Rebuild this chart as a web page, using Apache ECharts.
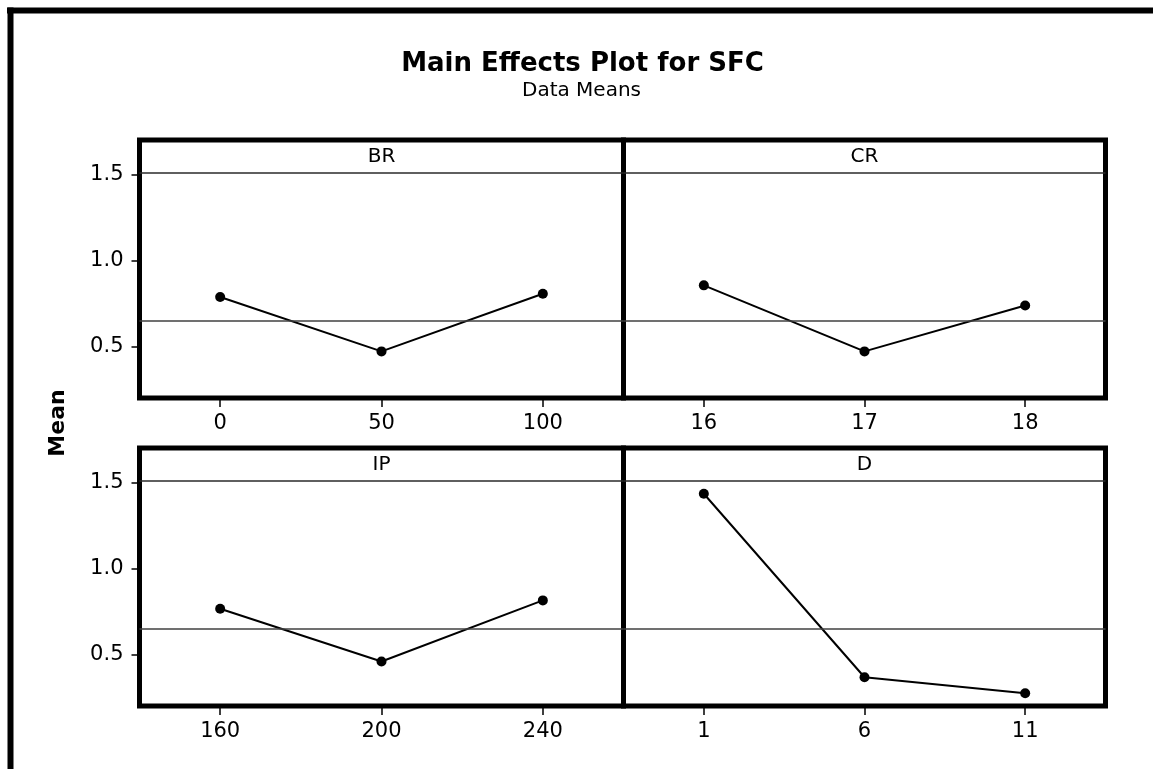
<!DOCTYPE html>
<html>
<head>
<meta charset="utf-8">
<script src="https://cdn.jsdelivr.net/npm/echarts@6/dist/echarts.min.js"></script>
<style>
  html, body { margin: 0; padding: 0; background: #fff; }
  #chart { width: 1153px; height: 769px; }
</style>
</head>
<body>
<div id="chart"></div>
<script>
// ---- data ----
const panelNames = ['BR', 'CR', 'IP', 'D'];
const brLevels = ['0', '50', '100'];
const brMeans = [0.787, 0.471, 0.806];
const crLevels = ['16', '17', '18'];
const crMeans = [0.855, 0.471, 0.738];
const ipLevels = ['160', '200', '240'];
const ipMeans = [0.765, 0.459, 0.814];
const dLevels = ['1', '6', '11'];
const dMeans = [1.434, 0.367, 0.274];
const grandMean = 0.647;
const stripLineValue = 1.514;
const yTicks = [0.5, 1.0, 1.5];
const yMin = 0.2, yMax = 1.7;

const levels = [brLevels, crLevels, ipLevels, dLevels];
const means = [brMeans, crMeans, ipMeans, dMeans];

const FONT = '"DejaVu Sans", Verdana, sans-serif';

const grids = [
  { left: 139.5, top: 140, width: 484, height: 258 },
  { left: 623.5, top: 140, width: 482, height: 258 },
  { left: 139.5, top: 448, width: 484, height: 258 },
  { left: 623.5, top: 448, width: 482, height: 258 }
].map(g => Object.assign(g, { show: true, borderColor: '#000', borderWidth: 5, backgroundColor: 'transparent' }));

const xAxes = levels.map((lv, i) => ({
  type: 'category', gridIndex: i, data: lv, boundaryGap: true,
  axisLine: { show: false },
  axisTick: { show: true, alignWithLabel: true, length: 9, lineStyle: { color: '#000', width: 1.5 } },
  axisLabel: { color: '#000', fontSize: 21, fontFamily: FONT, margin: 15, interval: 0 },
  splitLine: { show: false }
}));

const yAxes = levels.map((lv, i) => {
  const isLeft = (i % 2 === 0);
  return {
    type: 'value', gridIndex: i, min: yMin, max: yMax,
    axisLine: { show: false },
    axisTick: { show: isLeft, length: 8, customValues: yTicks, lineStyle: { color: '#000', width: 1.5 } },
    axisLabel: { show: isLeft, customValues: yTicks, color: '#000', fontSize: 21, fontFamily: FONT, margin: 16,
      formatter: v => v.toFixed(1) },
    splitLine: { show: false }
  };
});

const series = means.map((m, i) => ({
  type: 'line', xAxisIndex: i, yAxisIndex: i, data: m,
  symbol: 'circle', symbolSize: 10,
  itemStyle: { color: '#000' },
  lineStyle: { color: '#000', width: 2 },
  markLine: {
    silent: true, symbol: 'none', label: { show: false },
    data: [
      { yAxis: grandMean, lineStyle: { color: '#404040', width: 1.6, type: 'solid' } },
      { yAxis: stripLineValue, lineStyle: { color: '#2a2a2a', width: 1.6, type: 'solid' } }
    ]
  }
}));

const stripPos = [[381.5, 157], [864.5, 157], [381.5, 465], [864.5, 465]];
const graphic = [
  { type: 'line', shape: { x1: 7, y1: 10.5, x2: 1160, y2: 10.5 }, style: { stroke: '#000', lineWidth: 6 } },
  { type: 'line', shape: { x1: 10.5, y1: 7.5, x2: 10.5, y2: 780 }, style: { stroke: '#000', lineWidth: 6 } },
  { type: 'text', x: 582.5, y: 64, style: { text: 'Main Effects Plot for SFC', fontSize: 26, fontWeight: 'bold', fontFamily: FONT, fill: '#000', align: 'center', verticalAlign: 'middle' } },
  { type: 'text', x: 581.5, y: 91, style: { text: 'Data Means', fontSize: 20, fontFamily: FONT, fill: '#000', align: 'center', verticalAlign: 'middle' } },
  { type: 'text', x: 58, y: 423, rotation: Math.PI / 2, style: { text: 'Mean', fontSize: 22, fontWeight: 'bold', fontFamily: FONT, fill: '#000', align: 'center', verticalAlign: 'middle' } }
].concat(panelNames.map((n, i) => ({
  type: 'text', x: stripPos[i][0], y: stripPos[i][1],
  style: { text: n, fontSize: 20, fontFamily: FONT, fill: '#000', align: 'center', verticalAlign: 'middle' }
})));

const chart = echarts.init(document.getElementById('chart'), null, { renderer: 'canvas' });
chart.setOption({
  animation: false,
  backgroundColor: '#fff',
  grid: grids,
  xAxis: xAxes,
  yAxis: yAxes,
  series: series,
  graphic: graphic
});
</script>
</body>
</html>
